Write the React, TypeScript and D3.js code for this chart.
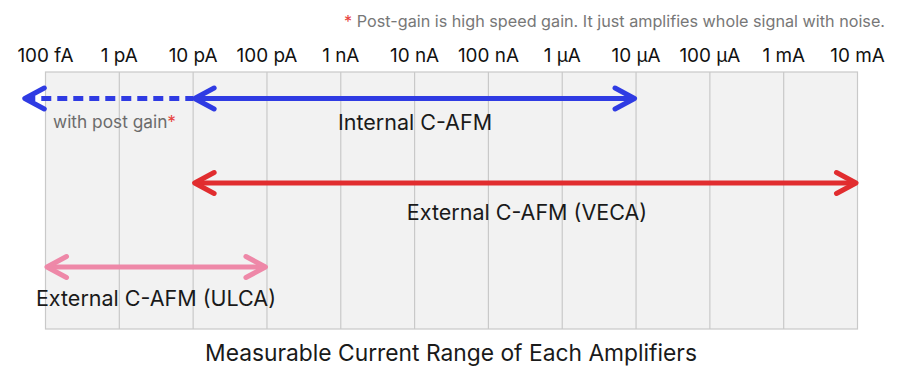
import React from "react";
import * as d3 from "d3";

const tickValues = [1e-13, 1e-12, 1e-11, 1e-10, 1e-9, 1e-8, 1e-7, 1e-6, 1e-5, 1e-4, 1e-3, 1e-2];
const tickLabels = ["100 fA", "1 pA", "10 pA", "100 pA", "1 nA", "10 nA", "100 nA", "1 µA", "10 µA", "100 µA", "1 mA", "10 mA"];

const rangeNames = ["Internal C-AFM", "External C-AFM (VECA)", "External C-AFM (ULCA)"];
const rangeFrom = [1e-11, 1e-11, 1e-13];
const rangeTo = [1e-5, 1e-2, 1e-10];
const rangeColors = ["#2f3be3", "#e12d2f", "#ee88a8"];

const postGainFrom = 5e-14;
const postGainTo = 1e-11;

const FONT = "Inter, 'Noto Sans', sans-serif";

function Chevron({ x, y, dir, color }: { x: number; y: number; dir: number; color: string }) {
  const p = d3.path();
  p.moveTo(x + dir * 21, y - 10.5);
  p.lineTo(x + dir * 1.5, y);
  p.lineTo(x + dir * 21, y + 10.5);
  return <path d={p.toString()} fill="none" stroke={color} strokeWidth={5} strokeLinecap="round" strokeLinejoin="round" />;
}

export default function App() {
  const W = 900, H = 377;
  const x = d3.scaleLog().domain([1e-13, 1e-2]).range([45.5, 857.5]);
  const top = 72, bottom = 329;
  const rowY = [98.5, 183, 267];
  const labelY = [129.5, 219.5, 306];
  const labelX = [415, 527, 156];

  return (
    <svg width={W} height={H} style={{ position: "absolute", left: 0, top: 0, fontFamily: FONT }}>
      <rect x={0} y={0} width={W} height={H} fill="#fff" />
      <text x={885} y={27} textAnchor="end" fontSize={16.2} fill="#777">
        <tspan fill="#e8433f">*</tspan> Post-gain is high speed gain. It just amplifies whole signal with noise.
      </text>
      {tickValues.map((v, i) => (
        <text key={i} x={x(v)} y={62} textAnchor="middle" fontSize={18.9} fill="#111">{tickLabels[i]}</text>
      ))}
      <rect x={x(1e-13)} y={top} width={x(1e-2) - x(1e-13)} height={bottom - top} fill="#f2f2f2" stroke="#c9c9c9" strokeWidth={1.2} />
      {tickValues.slice(1, -1).map((v, i) => (
        <line key={i} x1={x(v)} x2={x(v)} y1={top} y2={bottom} stroke="#c9c9c9" strokeWidth={1.2} />
      ))}
      {/* dashed post gain extension */}
      <line x1={x(postGainFrom) + 2} x2={x(postGainTo)} y1={rowY[0]} y2={rowY[0]} stroke={rangeColors[0]} strokeWidth={5} strokeDasharray="10 6" />
      <Chevron x={x(postGainFrom)} y={rowY[0]} dir={1} color={rangeColors[0]} />
      {rangeNames.map((n, i) => {
        const x1 = x(rangeFrom[i]), x2 = x(rangeTo[i]);
        return (
          <g key={i}>
            <line x1={x1 + 2} x2={x2 - 2} y1={rowY[i]} y2={rowY[i]} stroke={rangeColors[i]} strokeWidth={5} />
            <Chevron x={x1} y={rowY[i]} dir={1} color={rangeColors[i]} />
            <Chevron x={x2} y={rowY[i]} dir={-1} color={rangeColors[i]} />
            <text x={labelX[i]} y={labelY[i]} textAnchor="middle" fontSize={21.5} fill="#1a1a1a">{n}</text>
          </g>
        );
      })}
      <text x={53} y={128} fontSize={17.3} fill="#6b6b6b">with post gain<tspan fill="#e8433f">*</tspan></text>
      <text x={451} y={361} textAnchor="middle" fontSize={22.8} fill="#1a1a1a">Measurable Current Range of Each Amplifiers</text>
    </svg>
  );
}
